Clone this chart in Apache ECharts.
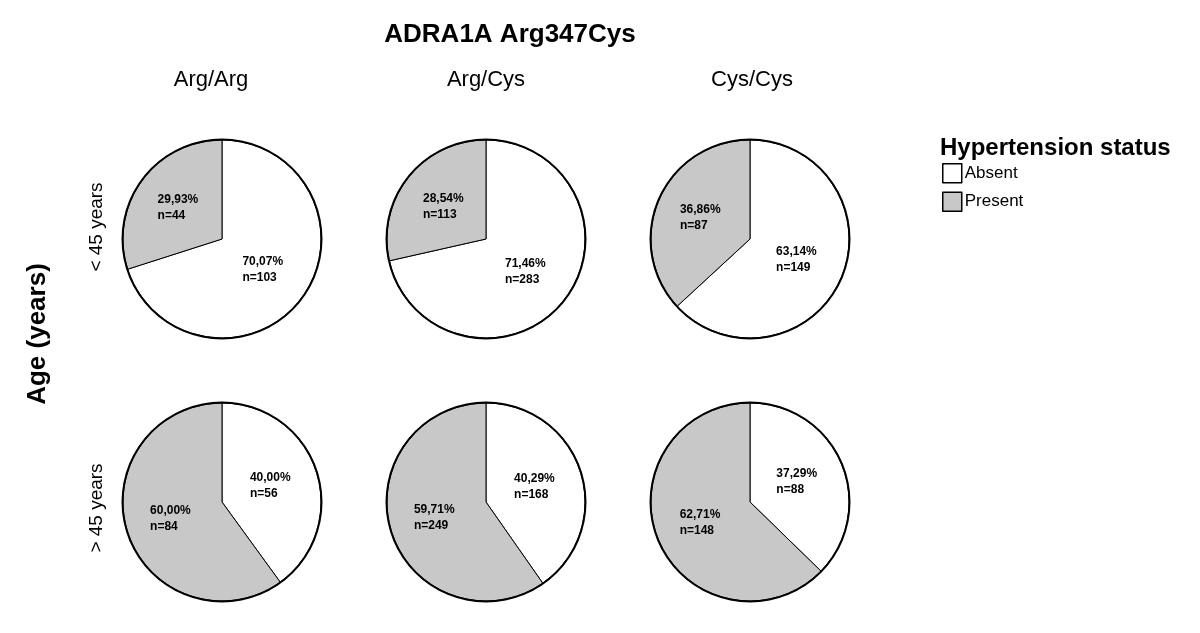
<!DOCTYPE html>
<html>
<head>
<meta charset="utf-8">
<script src="https://cdn.jsdelivr.net/npm/echarts@6/dist/echarts.min.js"></script>
<style>
html,body{margin:0;padding:0;background:#fff;}
#chart{width:1200px;height:633px;}
</style>
</head>
<body>
<div id="chart"></div>
<script>
// ---- data ----
const chartTitle = 'ADRA1A Arg347Cys';
const genotypes = ['Arg/Arg', 'Arg/Cys', 'Cys/Cys'];
const ageGroups = ['< 45 years', '> 45 years'];
const statusNames = ['Absent', 'Present'];
// counts per genotype [Arg/Arg, Arg/Cys, Cys/Cys]
const absentUnder45 = [103, 283, 149];
const presentUnder45 = [44, 113, 87];
const absentOver45 = [56, 168, 88];
const presentOver45 = [84, 249, 148];

// ---- layout ----
const colX = [222, 486, 750];
const rowY = [239, 502];
const headerX = [211, 486, 752];
const rowLabelY = [227, 508];
const R = 99;
const FONT = 'Liberation Sans, Arial, sans-serif';
const colors = { Absent: '#ffffff', Present: '#c8c8c8' };

const rows = [
  { absent: absentUnder45, present: presentUnder45 },
  { absent: absentOver45, present: presentOver45 }
];

const series = [];
rows.forEach((row, ri) => {
  genotypes.forEach((g, ci) => {
    const a = row.absent[ci], p = row.present[ci];
    const total = a + p;
    series.push({
      type: 'pie',
      name: g + ' ' + ageGroups[ri],
      center: [colX[ci], rowY[ri]],
      radius: [0, R],
      startAngle: 90,
      clockwise: true,
      avoidLabelOverlap: false,
      silent: true,
      animation: false,
      emphasis: { disabled: true },
      itemStyle: { borderColor: '#000', borderWidth: 1 },
      label: {
        show: true,
        position: 'inside',
        color: '#000',
        fontFamily: FONT,
        fontWeight: 'bold',
        fontSize: 12,
        formatter: (prm) => {
          const pct = (prm.value / total * 100).toFixed(2).replace('.', ',');
          return '{a|' + pct + '%}\n{a|n=' + prm.value + '}';
        },
        rich: {
          a: { width: 44, align: 'left', fontFamily: FONT, fontWeight: 'bold', fontSize: 12, lineHeight: 16, color: '#000' }
        }
      },
      labelLine: { show: false },
      data: [
        { name: statusNames[0], value: a, itemStyle: { color: colors.Absent } },
        { name: statusNames[1], value: p, itemStyle: { color: colors.Present } }
      ]
    });
    // outer outline ring
    series.push({
      type: 'pie',
      name: 'outline',
      center: [colX[ci], rowY[ri]],
      radius: [R - 0.5, R + 1.5],
      silent: true,
      animation: false,
      label: { show: false },
      labelLine: { show: false },
      emphasis: { disabled: true },
      itemStyle: { color: '#000' },
      data: [{ name: 'ring', value: 1 }]
    });
  });
});

const graphics = [];
genotypes.forEach((g, ci) => {
  graphics.push({
    type: 'text', x: headerX[ci], y: 80,
    style: { text: g, font: '22px ' + FONT, fill: '#000', textAlign: 'center', textVerticalAlign: 'middle' }
  });
});
ageGroups.forEach((lab, ri) => {
  graphics.push({
    type: 'text', x: 97, y: rowLabelY[ri], rotation: Math.PI / 2,
    style: { text: lab, font: '19px ' + FONT, fill: '#000', textAlign: 'center', textVerticalAlign: 'middle' }
  });
});
graphics.push({
  type: 'text', x: 38, y: 334, rotation: Math.PI / 2,
  style: { text: 'Age (years)', font: 'bold 26px ' + FONT, fill: '#000', textAlign: 'center', textVerticalAlign: 'middle' }
});
graphics.push({
  type: 'text', x: 940, y: 148,
  style: { text: 'Hypertension status', font: 'bold 24px ' + FONT, fill: '#000', textAlign: 'left', textVerticalAlign: 'middle' }
});

const chart = echarts.init(document.getElementById('chart'), null, { renderer: 'canvas' });
chart.setOption({
  backgroundColor: '#ffffff',
  animation: false,
  title: {
    text: chartTitle,
    left: 505,
    top: 17,
    textAlign: 'center',
    textStyle: { fontFamily: FONT, fontWeight: 'bold', fontSize: 26, color: '#000' }
  },
  legend: {
    data: statusNames,
    orient: 'vertical',
    left: 942,
    top: 163,
    padding: 0,
    itemWidth: 19,
    itemHeight: 19,
    itemGap: 8,
    icon: 'rect',
    selectedMode: false,
    itemStyle: { borderColor: '#000', borderWidth: 1.5 },
    textStyle: { fontFamily: FONT, fontSize: 17, color: '#000', padding: [0, 0, 0, -2] }
  },
  graphic: graphics,
  series: series
});
</script>
</body>
</html>
